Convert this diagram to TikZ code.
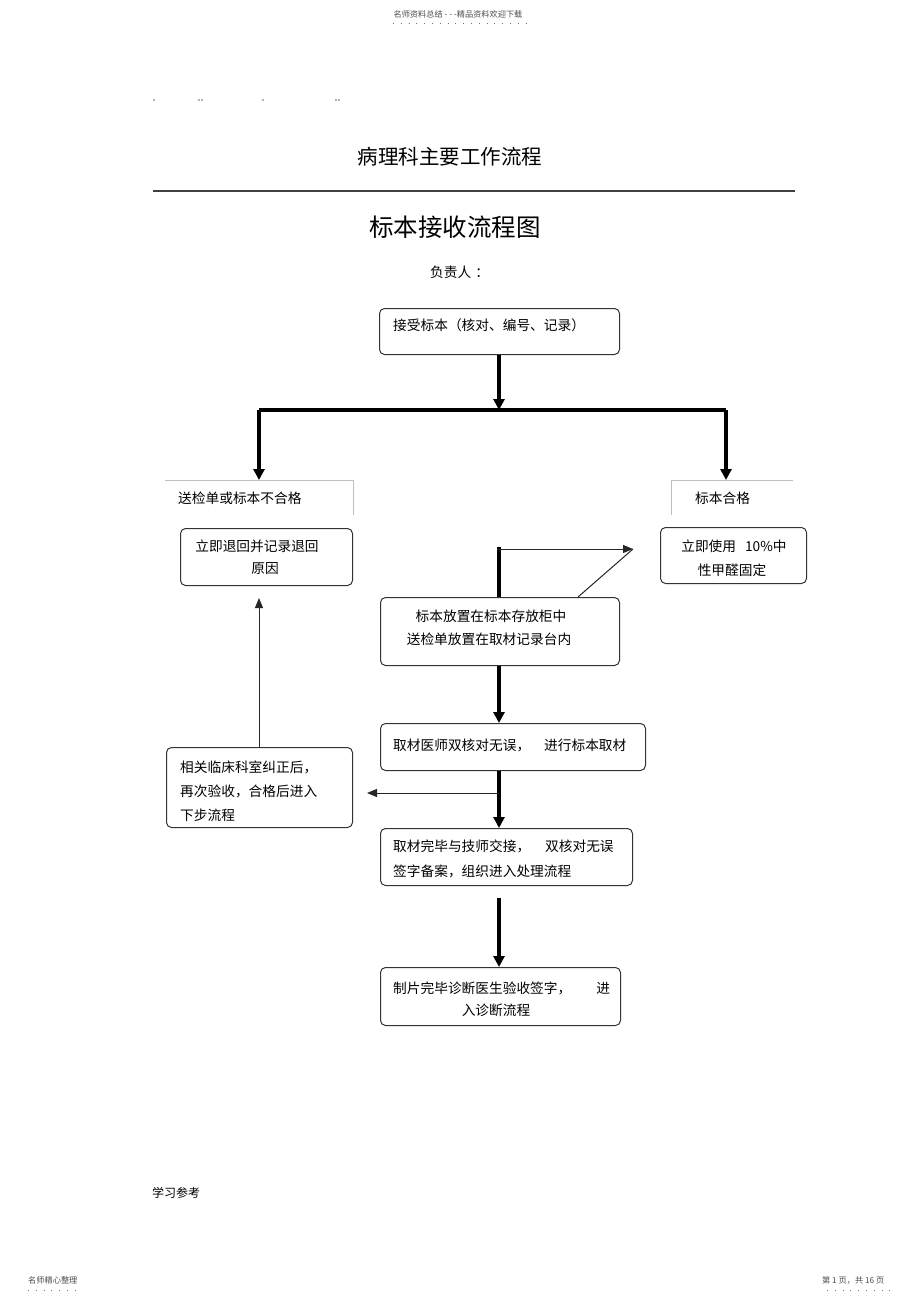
\documentclass[tikz,border=0pt]{standalone}
\usepackage{fontspec}
\setmainfont{Noto Sans CJK SC}
\usetikzlibrary{arrows.meta}
\tikzset{
  box/.style={draw=black!80, line width=1pt, rounded corners=5pt, anchor=north west, inner sep=0pt},
  txt/.style={font=\fontsize{13.7}{24}\selectfont, inner sep=0pt},
  small/.style={font=\fontsize{8.2}{9}\selectfont, text=black!70, inner sep=0pt},
  thick arrow/.style={line width=3.8pt, -{Triangle[width=11pt,length=11pt]}},
  thickline/.style={line width=3.8pt},
  thin arrow/.style={line width=1pt, draw=black!85, -{Triangle[width=8pt,length=10pt]}},
  thinline/.style={line width=1pt, draw=black!85},
  openbox/.style={draw=black!25, line width=0.8pt},
  dots/.style={draw=black!55, line width=0.9pt, dash pattern=on 1pt off 6.8pt},
}
\begin{document}
\begin{tikzpicture}[x=1pt,y=-1pt]
\useasboundingbox (0,0) rectangle (920,1303);
% header / footer
\node[small] (hdr) at (458,14) {名师资料总结 - - -精品资料欢迎下载};
\draw[dots] (393,23) -- (528,23);
\node[small, anchor=west] (ftl) at (28,1280) {名师精心整理};
\draw[dots] (28,1290) -- (77,1290);
\node[small, anchor=west] (ftr) at (822,1280) {第 1 页，共 16 页};
\draw[dots] (827,1290) -- (892,1290);
\foreach \xx in {154,199,202,263,336,339} \fill[black!60] (\xx,100) circle (0.8);
% titles
\node[font=\fontsize{20.5}{24}\selectfont, inner sep=0pt] (t1) at (450,157) {病理科主要工作流程};
\draw[black!75, line width=1.4pt] (153,191) -- (795,191);
\node[font=\fontsize{24.5}{28}\selectfont, inner sep=0pt] (t2) at (455,227) {标本接收流程图};
\node[txt, anchor=west] (resp) at (430,272) {负责人\hspace{4pt}：};
% box 1
\node[box, minimum width=240pt, minimum height=46pt] (b1) at (379,308) {};
\node[txt, anchor=west] (b1t) at (393,325) {接受标本（核对、编号、记录）};
% branch
\coordinate (br) at (499,410);
\coordinate (bl) at (259,410);
\coordinate (brr) at (726,410);
\coordinate (lab1) at (259,480);
\coordinate (lab2) at (726,480);
\draw[thick arrow] (b1.south -| br) -- (br);
\draw[thickline] (bl) -- (brr);
\draw[thick arrow] (bl) -- (lab1);
\draw[thick arrow] (brr) -- (lab2);
% open label boxes
\draw[openbox] (165,480) -- (353,480) -- (353,515);
\node[txt, anchor=west] (l1) at (178,498) {送检单或标本不合格};
\draw[openbox] (793,480) -- (671,480) -- (671,515);
\node[txt, anchor=west] (l2) at (695,498) {标本合格};
% return box
\node[box, minimum width=172pt, minimum height=57pt] (b2) at (180,528) {};
\node[txt] (b2a) at (257,546) {立即退回并记录退回};
\node[txt] (b2b) at (265,569) {原因};
% formalin box
\node[box, minimum width=146pt, minimum height=56pt] (b3) at (660,527) {};
\node[txt] (b3a) at (734,546) {立即使用\hspace{9pt}10\%中};
\node[txt] (b3b) at (732,570) {性甲醛固定};
% storage box
\node[box, minimum width=239pt, minimum height=68pt] (b4) at (380,597) {};
\node[txt] (b4a) at (491,616) {标本放置在标本存放柜中};
\node[txt] (b4b) at (489,639) {送检单放置在取材记录台内};
% odd arrow toward formalin box
\coordinate (up) at (499,549);
\coordinate (tip) at (633,549);
\coordinate (diag) at (578,597);
\draw[thickline] (b4.north -| up) -- ([yshift=1.9pt]up);
\draw[thin arrow] ([xshift=-1.9pt]up) -- (tip);
\draw[thinline] (tip) -- (diag);
% sampling box
\node[box, minimum width=265pt, minimum height=47pt] (b5) at (380,723) {};
\node[txt, anchor=west] (b5t) at (393,745) {取材医师双核对无误，\hspace{14pt}进行标本取材};
\draw[thick arrow] (b4.south -| up) -- (b5.north -| up);
% handover box
\node[box, minimum width=252pt, minimum height=57pt] (b6) at (380,828) {};
\node[txt, anchor=west] (b6a) at (393,846) {取材完毕与技师交接，\hspace{15pt}双核对无误};
\node[txt, anchor=west] (b6b) at (393,871) {签字备案，组织进入处理流程};
\draw[thick arrow] (b5.south -| up) -- (b6.north -| up);
\coordinate (mid) at (499,793);
\coordinate (leftend) at (367,793);
\draw[thin arrow] (mid) -- (leftend);
% correction box
\node[box, minimum width=186pt, minimum height=80pt] (b7) at (166,747) {};
\node[txt, anchor=west] (b7a) at (180,767) {相关临床科室纠正后，};
\node[txt, anchor=west] (b7b) at (180,791) {再次验收，合格后进入};
\node[txt, anchor=west] (b7c) at (180,815) {下步流程};
\coordinate (upend) at (259,598);
\draw[thin arrow] (b7.north -| upend) -- (upend);
% final box
\node[box, minimum width=240pt, minimum height=58pt] (b8) at (380,967) {};
\node[txt, anchor=west] (b8a) at (393,988) {制片完毕诊断医生验收签字，\hspace{25pt}进};
\node[txt] (b8b) at (496,1010) {入诊断流程};
\coordinate (gapstart) at (499,898);
\draw[thick arrow] (gapstart) -- (b8.north -| up);
% footer note
\node[font=\fontsize{12}{14}\selectfont, inner sep=0pt, anchor=west] (note) at (152,1193) {学习参考};
\end{tikzpicture}
\end{document}
